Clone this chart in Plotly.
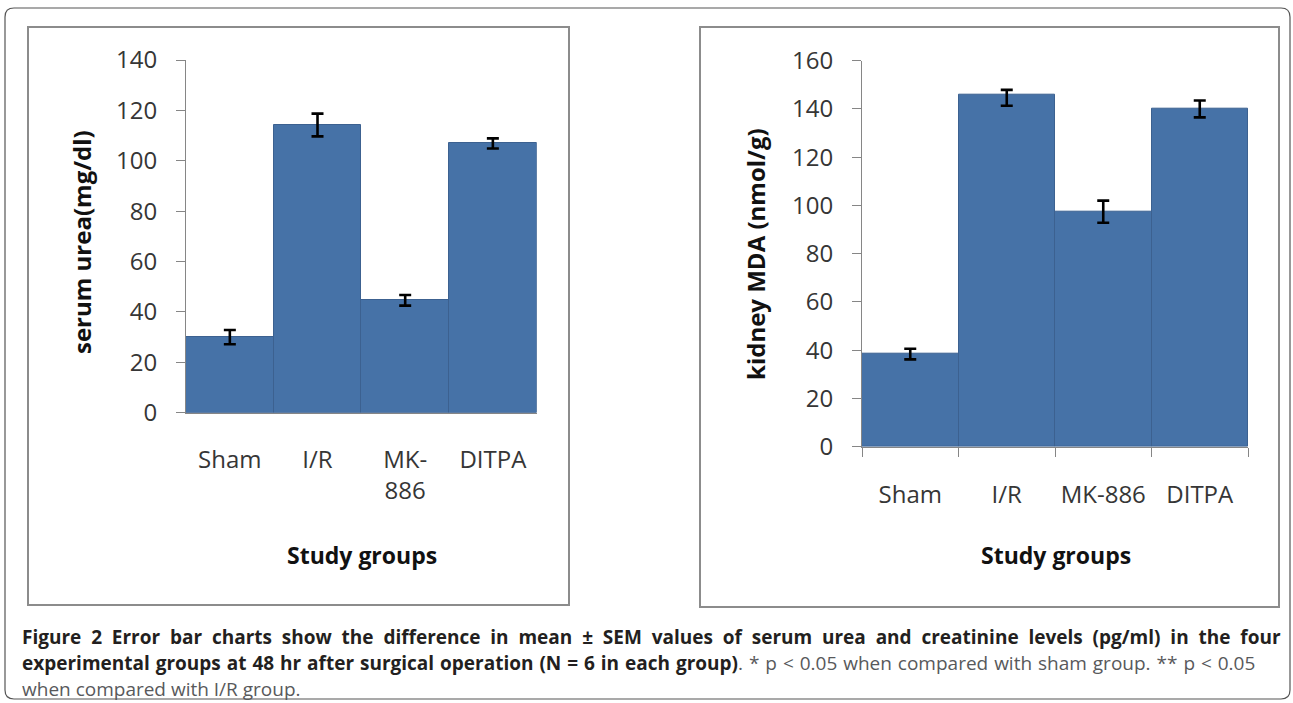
import plotly.graph_objects as go

W, H = 1293, 703

# ---------------- data ----------------
groups_left = ["Sham", "I/R", "MK-<br>886", "DITPA"]
serum_urea = [30.0, 114.2, 44.6, 106.9]
serum_urea_sem = [2.8, 4.5, 2.1, 2.0]

groups_right = ["Sham", "I/R", "MK-886", "DITPA"]
kidney_mda = [38.4, 145.8, 97.4, 140.0]
kidney_mda_sem_plus = [2.2, 2.1, 4.6, 3.5]
kidney_mda_sem_minus = [2.2, 4.5, 4.6, 3.5]

left_yticks = [0, 20, 40, 60, 80, 100, 120, 140]
right_yticks = [0, 20, 40, 60, 80, 100, 120, 140, 160]

caption_l1 = ("Figure 2 Error bar charts show the difference in mean \u00b1 SEM values of serum urea "
              "and creatinine levels (pg/ml) in the four")
caption_l2_bold = ("experimental groups at 48 hr after surgical operation (N = 6 in each group)")
caption_l2_rest = ". * p < 0.05 when compared with sham group. ** p < 0.05"
caption_l3 = "when compared with I/R group."

# ---------------- styles ----------------
BAR = "#4672A7"
BAR_LINE = "#3C6190"
AX = "#868686"
TXT = "#363636"
FONT = "Open Sans"


def px(x):
    return x / W


def py(y):
    return 1 - y / H


fig = go.Figure()

fig.add_trace(go.Bar(
    x=groups_left, y=serum_urea, width=1.0,
    marker=dict(color=BAR, line=dict(color=BAR_LINE, width=1)),
    error_y=dict(type="data", array=serum_urea_sem, color="black", thickness=2.6, width=6),
    xaxis="x", yaxis="y", showlegend=False,
))

fig.add_trace(go.Bar(
    x=groups_right, y=kidney_mda, width=1.0,
    marker=dict(color=BAR, line=dict(color=BAR_LINE, width=1)),
    error_y=dict(type="data", symmetric=False, array=kidney_mda_sem_plus,
                 arrayminus=kidney_mda_sem_minus, color="black", thickness=2.6, width=6),
    xaxis="x2", yaxis="y2", showlegend=False,
))

tickfont = dict(family=FONT, size=24, color=TXT)

fig.update_layout(
    width=W, height=H,
    margin=dict(l=0, r=0, t=0, b=0, autoexpand=False),
    paper_bgcolor="white", plot_bgcolor="white",
    bargap=0,
    xaxis=dict(domain=[px(186), px(536.7)], range=[-0.5, 3.5], anchor="y",
               showline=True, linecolor=AX, linewidth=1, ticks="", showgrid=False,
               tickfont=tickfont, ticklabelstandoff=25, fixedrange=True, automargin=False),
    yaxis=dict(domain=[py(412.7), py(60)], range=[0, 140], anchor="x",
               tickvals=left_yticks, showline=True, linecolor=AX, linewidth=1,
               ticks="outside", ticklen=9, tickcolor=AX, showgrid=False, zeroline=False,
               tickfont=tickfont, ticklabelstandoff=14, fixedrange=True, automargin=False),
    xaxis2=dict(domain=[px(862), px(1248)], range=[-0.5, 3.5], anchor="y2",
                showline=True, linecolor=AX, linewidth=1, ticks="outside", ticklen=9,
                tickcolor=AX, tickson="boundaries", showgrid=False,
                tickfont=tickfont, ticklabelstandoff=26, fixedrange=True, automargin=False),
    yaxis2=dict(domain=[py(446.7), py(60.7)], range=[0, 160], anchor="x2",
                tickvals=right_yticks, showline=True, linecolor=AX, linewidth=1,
                ticks="outside", ticklen=9, tickcolor=AX, showgrid=False, zeroline=False,
                tickfont=tickfont, ticklabelstandoff=14, fixedrange=True, automargin=False),
)

# axis titles
ytitle_font = dict(family=FONT, size=24, color="#111111")
xtitle_font = dict(family=FONT, size=23, color="#111111")
ann = [
    dict(text="<b>serum urea(mg/dl)</b>", x=px(81), y=py(242), textangle=-90, font=ytitle_font),
    dict(text="<b>kidney MDA (nmol/g)</b>", x=px(755), y=py(254), textangle=-90, font=ytitle_font),
    dict(text="<b>Study groups</b>", x=px(361.5), y=py(555), font=xtitle_font),
    dict(text="<b>Study groups</b>", x=px(1056), y=py(555), font=xtitle_font),
]
for a in ann:
    fig.add_annotation(xref="paper", yref="paper", showarrow=False,
                       xanchor="center", yanchor="middle", **a)

# caption
CAP_SIZE = 19
cap_bold = dict(family=FONT, size=CAP_SIZE, color="#231F20")
fig.add_annotation(xref="paper", yref="paper", x=px(20), y=py(637), xanchor="left",
                   yanchor="middle", showarrow=False, font=cap_bold,
                   text="<span style='word-spacing:4.9px'><b>" + caption_l1 + "</b></span>")
fig.add_annotation(xref="paper", yref="paper", x=px(20), y=py(663), xanchor="left",
                   yanchor="middle", showarrow=False, font=cap_bold,
                   text="<span style='word-spacing:1px'><b>" + caption_l2_bold + "</b></span>"
                        + "<span style='color:#58595B;font-weight:normal;word-spacing:1px'>"
                        + caption_l2_rest.replace("<", "&lt;") + "</span>")
fig.add_annotation(xref="paper", yref="paper", x=px(20), y=py(689), xanchor="left",
                   yanchor="middle", showarrow=False,
                   font=dict(family=FONT, size=CAP_SIZE, color="#58595B"),
                   text=caption_l3)

# panel frames
for (x0, y0, x1, y1) in [(28, 27, 569, 605), (700, 27, 1279, 607)]:
    fig.add_shape(type="rect", xref="paper", yref="paper",
                  x0=px(x0), x1=px(x1), y0=py(y1), y1=py(y0),
                  line=dict(color="#8C8C8C", width=2), fillcolor="rgba(0,0,0,0)")

# outer rounded frame
r = 9
x0, y0, x1, y1 = 5, 8, 1290, 699
path = (f"M {px(x0 + r)},{py(y0)} L {px(x1 - r)},{py(y0)} "
        f"Q {px(x1)},{py(y0)} {px(x1)},{py(y0 + r)} L {px(x1)},{py(y1 - r)} "
        f"Q {px(x1)},{py(y1)} {px(x1 - r)},{py(y1)} L {px(x0 + r)},{py(y1)} "
        f"Q {px(x0)},{py(y1)} {px(x0)},{py(y1 - r)} L {px(x0)},{py(y0 + r)} "
        f"Q {px(x0)},{py(y0)} {px(x0 + r)},{py(y0)} Z")
fig.add_shape(type="path", xref="paper", yref="paper", path=path,
              line=dict(color="#555555", width=1.2), fillcolor="rgba(0,0,0,0)")

post = ("document.body.style.margin='0';document.body.style.overflow='hidden';"
        "var g=document.getElementById('{plot_id}');g.style.position='absolute';"
        "g.style.left='0px';g.style.top='0px';")

fig.write_html("out.html", post_script=post, config={"displayModeBar": False})
